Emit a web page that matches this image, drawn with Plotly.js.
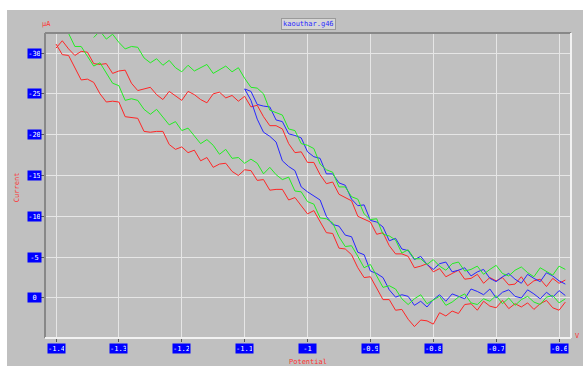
<!DOCTYPE html>
<html>
<head>
<meta charset="utf-8">
<script src="https://cdn.plot.ly/plotly-3.0.1.min.js"></script>
<style>
html,body{margin:0;padding:0;background:#ffffff;width:583px;height:366px;overflow:hidden;}
#chart{position:absolute;left:7px;top:10px;width:576px;height:356px;}
</style>
</head>
<body>
<div id="chart"></div>
<script>
// Potential axis (V)
const potFull = [-1.40,-1.39,-1.38,-1.37,-1.36,-1.35,-1.34,-1.33,-1.32,-1.31,
  -1.30,-1.29,-1.28,-1.27,-1.26,-1.25,-1.24,-1.23,-1.22,-1.21,
  -1.20,-1.19,-1.18,-1.17,-1.16,-1.15,-1.14,-1.13,-1.12,-1.11,
  -1.10,-1.09,-1.08,-1.07,-1.06,-1.05,-1.04,-1.03,-1.02,-1.01,
  -1.00,-0.99,-0.98,-0.97,-0.96,-0.95,-0.94,-0.93,-0.92,-0.91,
  -0.90,-0.89,-0.88,-0.87,-0.86,-0.85,-0.84,-0.83,-0.82,-0.81,
  -0.80,-0.79,-0.78,-0.77,-0.76,-0.75,-0.74,-0.73,-0.72,-0.71,
  -0.70,-0.69,-0.68,-0.67,-0.66,-0.65,-0.64,-0.63,-0.62,-0.61,
  -0.60,-0.59];
const potBlue = [-1.10,-1.09,-1.08,-1.07,-1.06,-1.05,-1.04,-1.03,-1.02,-1.01,
  -1.00,-0.99,-0.98,-0.97,-0.96,-0.95,-0.94,-0.93,-0.92,-0.91,
  -0.90,-0.89,-0.88,-0.87,-0.86,-0.85,-0.84,-0.83,-0.82,-0.81,
  -0.80,-0.79,-0.78,-0.77,-0.76,-0.75,-0.74,-0.73,-0.72,-0.71,
  -0.70,-0.69,-0.68,-0.67,-0.66,-0.65,-0.64,-0.63,-0.62,-0.61,
  -0.60,-0.59];

// Current (µA)
const redUpper = [-30.6,-31.5,-30.5,-29.7,-30.2,-30.1,-28.7,-28.6,-28.7,-27.5,
  -27.8,-27.9,-26.3,-25.4,-25.6,-25.8,-24.9,-24.3,-25.3,-24.7,
  -24.2,-25.3,-24.9,-24.3,-23.9,-25.0,-25.2,-24.5,-24.8,-24.1,
  -24.7,-23.4,-23.6,-22.2,-21.1,-21.1,-20.7,-18.9,-17.8,-17.9,
  -16.6,-16.6,-15.1,-14.0,-14.2,-12.7,-12.3,-11.9,-10.0,-9.6,
  -9.3,-7.8,-8.0,-6.4,-5.4,-5.4,-5.1,-3.7,-3.9,-4.2,
  -3.2,-3.6,-2.6,-3.0,-3.4,-2.3,-2.4,-2.9,-1.8,-2.5,
  -2.1,-2.5,-1.6,-1.7,-2.6,-1.5,-2.1,-2.3,-1.4,-2.4,
  -1.8,-2.2];
const redLower = [-31.1,-29.8,-29.7,-28.1,-26.7,-26.8,-26.4,-25.0,-24.0,-24.1,
  -24.0,-22.2,-22.1,-22.0,-20.4,-20.3,-20.4,-20.4,-18.8,-18.2,
  -18.5,-17.8,-18.1,-16.8,-17.2,-16.0,-16.4,-16.5,-15.5,-15.0,
  -15.7,-15.6,-14.4,-14.5,-13.2,-13.3,-13.3,-12.0,-12.3,-11.3,
  -10.3,-10.7,-9.4,-8.0,-7.9,-6.1,-6.0,-5.3,-3.7,-2.5,
  -2.6,-1.2,0.2,0.2,1.5,1.4,2.6,3.5,2.7,2.8,
  3.2,1.8,2.2,1.6,1.9,0.8,0.7,1.5,0.4,1.0,
  1.2,0.3,1.3,0.7,1.1,0.6,1.4,0.7,0.3,1.2,
  1.5,0.5];
const greenUpper = [null,null,null,null,null,null,-31.9,-32.7,-31.7,-32.3,
  -31.3,-30.5,-30.8,-30.7,-29.4,-28.8,-29.3,-28.5,-29.1,-28.2,
  -27.7,-28.5,-27.8,-28.2,-28.6,-27.5,-27.9,-28.4,-27.7,-28.2,
  -26.9,-25.8,-25.7,-25.0,-23.0,-22.7,-22.4,-20.7,-20.5,-18.9,
  -18.7,-18.3,-16.4,-15.7,-15.4,-13.6,-13.6,-12.4,-12.1,-10.3,
  -9.6,-9.7,-7.8,-7.6,-7.1,-5.5,-5.9,-4.8,-4.8,-4.1,
  -4.7,-3.9,-3.4,-4.2,-4.4,-3.3,-3.5,-3.9,-2.9,-3.5,
  -4.0,-3.0,-2.7,-3.4,-3.8,-3.1,-2.6,-3.7,-3.2,-2.8,
  -3.9,-3.5];
const greenLower = [null,-32.6,-32.4,-30.8,-30.8,-29.6,-28.4,-28.8,-27.6,-26.3,
  -26.0,-24.2,-24.4,-24.2,-23.1,-22.5,-23.1,-22.2,-21.2,-21.6,
  -20.5,-20.8,-19.8,-18.9,-19.4,-18.7,-17.6,-18.2,-17.1,-17.2,
  -16.5,-17.0,-16.5,-15.2,-16.0,-15.1,-14.5,-14.8,-13.1,-13.0,
  -11.8,-11.5,-9.8,-9.7,-9.2,-7.5,-6.3,-6.4,-5.1,-3.7,
  -4.1,-2.6,-1.3,-1.5,-1.1,0.1,0.8,0.1,-0.4,0.7,
  0.2,-0.2,0.9,0.5,-0.1,-0.5,0.6,0.8,0.1,0.4,
  -0.3,0.7,0.0,0.9,0.2,-0.2,0.5,0.8,-0.1,-0.3,
  0.6,0.1];
const blueUpper = [-25.6,-25.3,-23.7,-23.5,-23.4,-21.8,-21.6,-20.1,-19.9,-19.6,
  -17.9,-17.3,-17.1,-15.2,-15.2,-14.1,-13.8,-12.1,-11.3,-11.4,
  -9.5,-9.3,-8.7,-7.0,-7.3,-6.0,-5.8,-4.7,-5.1,-4.1,
  -3.5,-4.2,-4.4,-3.2,-3.4,-3.7,-2.7,-3.2,-3.5,-2.4,
  -2.0,-2.6,-3.0,-2.3,-1.8,-2.9,-2.4,-2.0,-3.1,-2.7,
  -2.1,-1.7];
const blueLower = [-25.6,-24.2,-21.9,-20.3,-19.8,-19.1,-16.8,-16.1,-15.6,-13.6,
  -13.0,-12.5,-12.0,-10.0,-9.0,-8.8,-7.7,-7.5,-5.6,-5.3,
  -3.3,-3.0,-2.5,-1.0,-0.1,-0.4,-0.2,0.9,0.4,1.1,
  0.2,-0.4,0.4,-0.5,-0.2,0.1,-1.1,-0.8,-0.4,-1.1,
  0.0,-0.7,-1.0,-0.2,0.0,-1.0,-0.5,0.1,-0.7,-0.1,
  -0.9,-0.3];

// Tick labels
const xTickVals = [-1.4,-1.3,-1.2,-1.1,-1.0,-0.9,-0.8,-0.7,-0.6];
const xTickText = ['-1.4','-1.3','-1.2','-1.1','-1','-0.9','-0.8','-0.7','-0.6'];
const yTickVals = [-30,-25,-20,-15,-10,-5,0];
const yTickText = ['-30','-25','-20','-15','-10','-5','0'];

const chartTitle = 'kaouthar.g46';
const xLabel = 'Potential';
const yLabel = 'Current';
const xUnit = 'V';
const yUnit = 'µA';

const RED = '#ff2626', GREEN = '#22ee22', BLUE = '#2626ff';
const mono = 'DejaVu Sans Mono, monospace';

function tr(x, y, c, name) {
  return {x: x, y: y, type: 'scatter', mode: 'lines', name: name,
    line: {color: c, width: 1}, connectgaps: false, hoverinfo: 'skip'};
}
const data = [
  tr(potFull, redUpper, RED, 'red 1'),
  tr(potFull, redLower, RED, 'red 2'),
  tr(potBlue, blueUpper, BLUE, 'blue 1'),
  tr(potBlue, blueLower, BLUE, 'blue 2'),
  tr(potFull, greenUpper, GREEN, 'green 1'),
  tr(potFull, greenLower, GREEN, 'green 2')
];

const annotations = [];
xTickVals.forEach((v, i) => annotations.push({
  xref: 'x', yref: 'paper', x: v, y: -0.034, text: xTickText[i], showarrow: false,
  xanchor: 'center', yanchor: 'middle', bgcolor: '#0000ff', width: 15, height: 7, borderpad: 1,
  font: {family: mono, size: 7, color: '#ffffff'}
}));
yTickVals.forEach((v, i) => annotations.push({
  xref: 'paper', yref: 'y', x: -0.02, y: v, text: yTickText[i], showarrow: false,
  xanchor: 'center', yanchor: 'middle', bgcolor: '#0000ff', width: 11, height: 7, borderpad: 1,
  font: {family: mono, size: 7, color: '#ffffff'}
}));
annotations.push({xref: 'paper', yref: 'paper', x: 0.5, y: 1.0295, text: chartTitle, showarrow: false,
  xanchor: 'center', yanchor: 'middle', bgcolor: '#d6d6d6', bordercolor: '#9a9a9a', borderwidth: 1, borderpad: 1,
  font: {family: mono, size: 7, color: '#2a2aff'}});
annotations.push({xref: 'paper', yref: 'paper', x: 0.003, y: 1.0295, text: yUnit, showarrow: false,
  xanchor: 'center', yanchor: 'middle', font: {family: mono, size: 7, color: '#ff3030'}});
annotations.push({xref: 'paper', yref: 'paper', x: -0.053, y: 0.495, text: yLabel, showarrow: false,
  textangle: -90, xanchor: 'center', yanchor: 'middle', font: {family: mono, size: 7, color: '#ff3030'}});
annotations.push({xref: 'paper', yref: 'paper', x: 0.5, y: -0.0787, text: xLabel, showarrow: false,
  xanchor: 'center', yanchor: 'middle', font: {family: mono, size: 7, color: '#ff3030'}});
annotations.push({xref: 'paper', yref: 'paper', x: 1.0133, y: 0.0066, text: xUnit, showarrow: false,
  xanchor: 'center', yanchor: 'middle', font: {family: mono, size: 7, color: '#ff3030'}});

const layout = {
  width: 576, height: 356,
  margin: {l: 38, r: 12, t: 23, b: 28},
  paper_bgcolor: '#c0c0c0', plot_bgcolor: '#c0c0c0',
  showlegend: false,
  xaxis: {range: [-1.4175, -0.581], tickmode: 'array', tickvals: xTickVals, showticklabels: false,
    showgrid: true, gridcolor: '#e6e6e6', gridwidth: 1, zeroline: false, showline: false,
    ticks: 'outside', ticklen: 3, tickcolor: '#555555', tickwidth: 1},
  yaxis: {range: [4.9, -32.45], tickmode: 'array', tickvals: yTickVals, showticklabels: false,
    showgrid: true, gridcolor: '#e6e6e6', gridwidth: 1, zeroline: false, showline: false,
    ticks: 'outside', ticklen: 3, tickcolor: '#555555', tickwidth: 1},
  shapes: [
    {type: 'line', xref: 'paper', yref: 'paper', x0: 0, x1: 0, y0: 0, y1: 1, line: {color: '#888888', width: 2}},
    {type: 'line', xref: 'paper', yref: 'paper', x0: 0, x1: 1, y0: 1, y1: 1, line: {color: '#888888', width: 2}},
    {type: 'line', xref: 'paper', yref: 'paper', x0: 1, x1: 1, y0: 0, y1: 1, line: {color: '#f2f2f2', width: 2}},
    {type: 'line', xref: 'paper', yref: 'paper', x0: 0, x1: 1, y0: 0, y1: 0, line: {color: '#f2f2f2', width: 2}}
  ],
  annotations: annotations
};

Plotly.newPlot('chart', data, layout, {staticPlot: true, displayModeBar: false});
</script>
</body>
</html>
